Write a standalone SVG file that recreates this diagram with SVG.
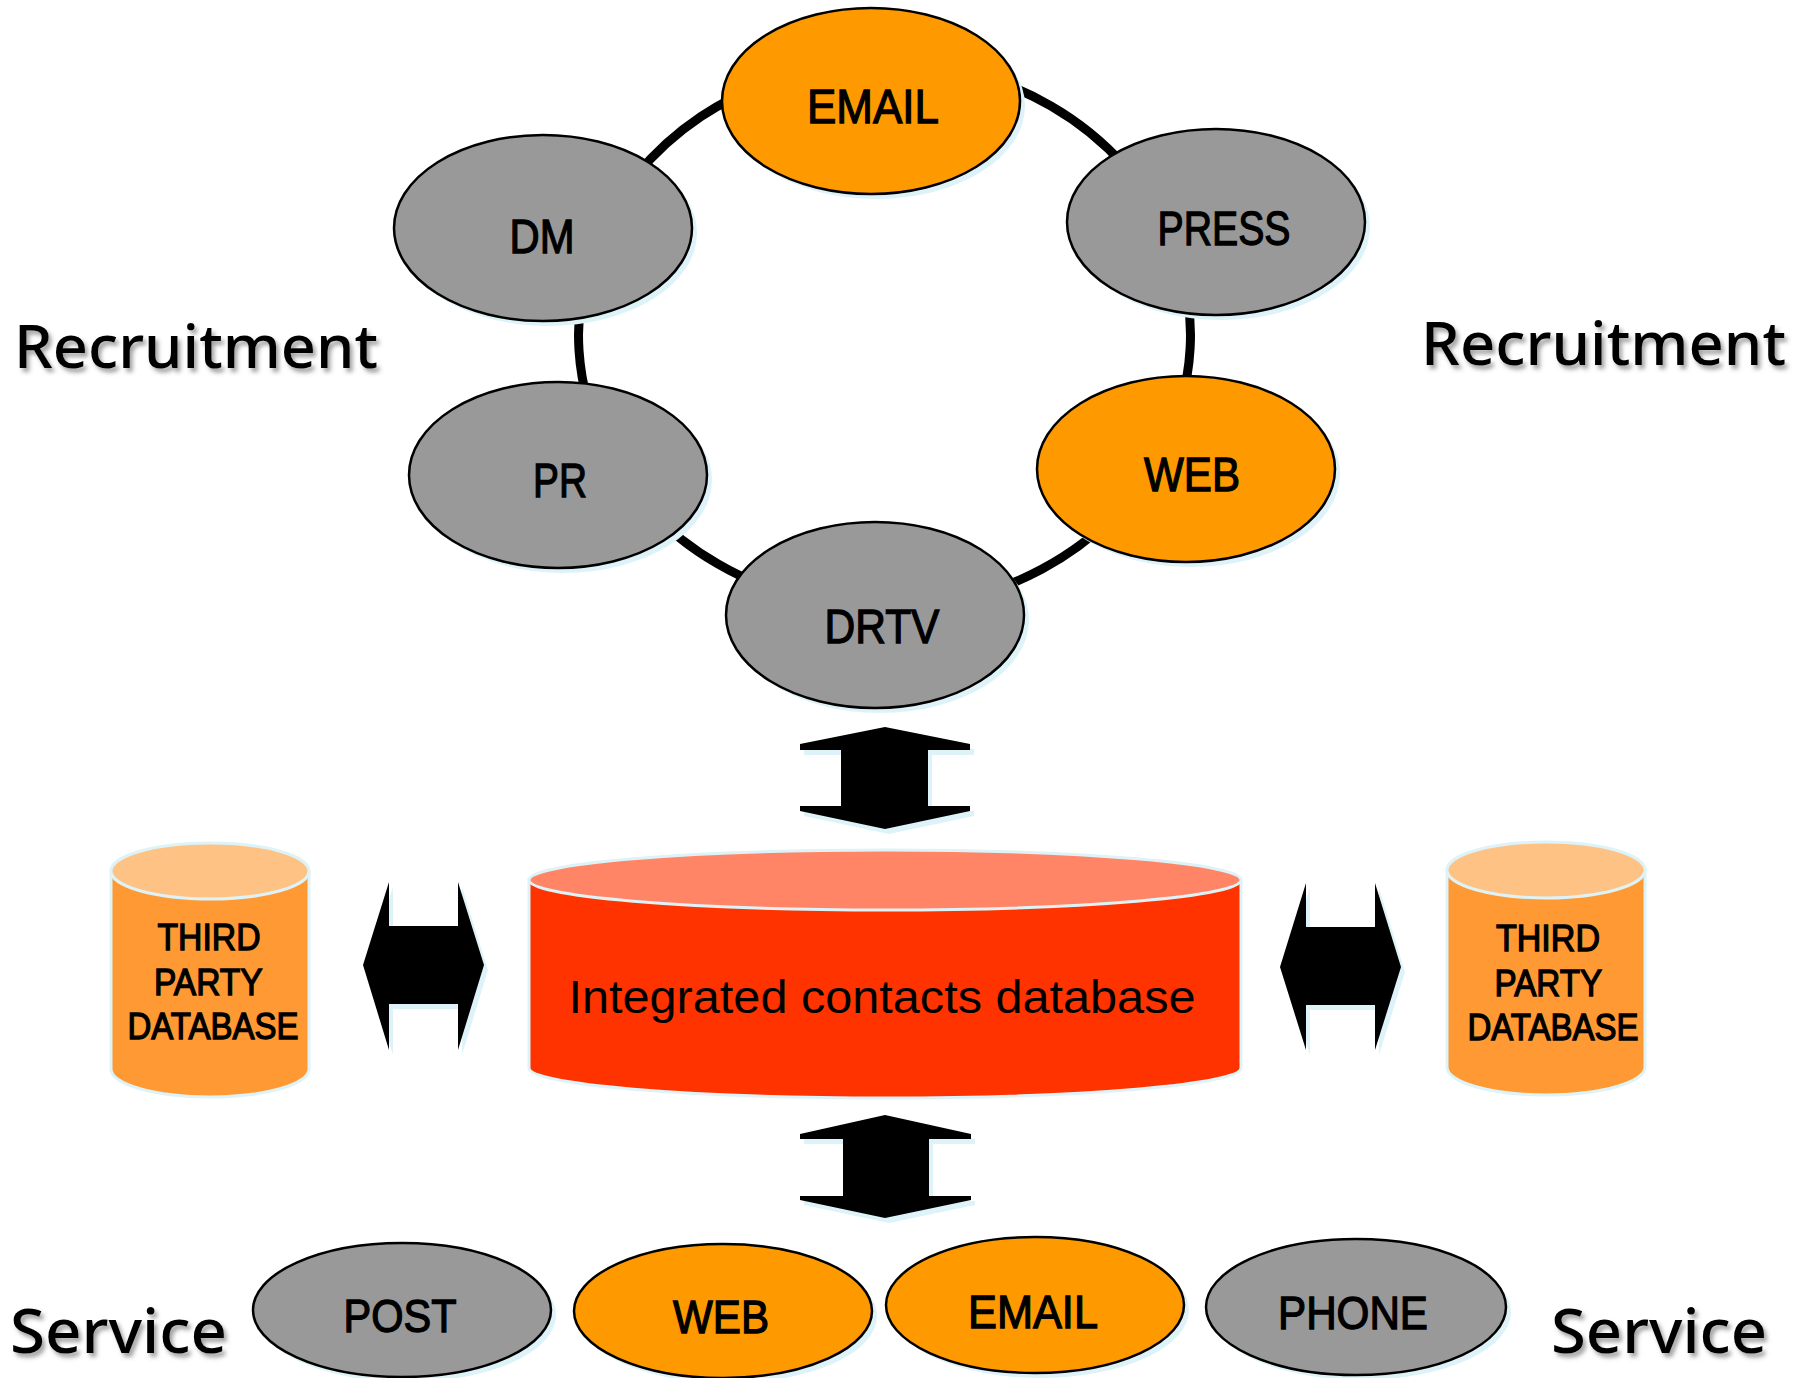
<svg xmlns="http://www.w3.org/2000/svg" width="1806" height="1378" viewBox="0 0 1806 1378">
  <defs>
    <filter id="tshadow" x="-10%" y="-30%" width="130%" height="170%">
      <feDropShadow dx="3" dy="4" stdDeviation="2" flood-color="#555555" flood-opacity="0.55"/>
    </filter>
  </defs>
  <style>
    .lbl { font-family: "Liberation Sans Narrow", "Liberation Sans", Arial, sans-serif; fill: #000; stroke: #000; stroke-width: 1.3; text-anchor: middle; }
    .side { font-family: "Noto Sans", "Open Sans", "DejaVu Sans", sans-serif; font-weight: 500; fill: #000; filter: url(#tshadow); }
    .gray { fill: #999999; stroke: #000; stroke-width: 2.5; }
    .orange { fill: #FF9900; stroke: #000; stroke-width: 2.5; }
    .shadow { fill: #DDF3F9; }
    .ring { fill: none; stroke: #000; stroke-width: 9; }
    .arrow { fill: #000; }
    .ashadow { fill: #DDF3F9; }
    .cylout { stroke: #DDF3F8; stroke-width: 3; }
  </style>
  <rect width="1806" height="1378" fill="#FFFFFF"/>

  <!-- side labels -->
  <text class="side" x="14" y="368" font-size="59" textLength="364" lengthAdjust="spacingAndGlyphs">Recruitment</text>
  <text class="side" x="1421" y="365" font-size="59" textLength="365" lengthAdjust="spacingAndGlyphs">Recruitment</text>
  <text class="side" x="10" y="1353" font-size="61" textLength="217" lengthAdjust="spacingAndGlyphs">Service</text>
  <text class="side" x="1551" y="1353" font-size="61" textLength="216" lengthAdjust="spacingAndGlyphs">Service</text>

  <!-- connectors -->
  <g id="connectors">
    <path class="ring" d="M 868.5 62.4 A 306 273 0 0 1 1170.2 237.2"/>
    <path class="ring" d="M 1170.2 237.2 A 306 273 0 0 1 1158.3 456.8"/>
    <path class="ring" d="M 1158.3 456.8 A 306 273 0 0 1 875.4 607.9"/>
    <path class="ring" d="M 875.4 607.9 A 306 273 0 0 1 608.8 453.4"/>
    <path class="ring" d="M 608.8 453.4 A 306 273 0 0 1 595.7 244.8"/>
    <path class="ring" d="M 595.7 244.8 A 306 273 0 0 1 868.5 62.4"/>

    <!-- vertical double arrow (top) -->
    <g id="arrow-top">
      <path class="ashadow" transform="translate(4,5)" d="M885 727 L970 744 L970 750 L928 750 L928 806 L970 806 L970 811 L885 829 L800 811 L800 806 L841 806 L841 750 L800 750 L800 744 Z"/>
      <path class="arrow" d="M885 727 L970 744 L970 750 L928 750 L928 806 L970 806 L970 811 L885 829 L800 811 L800 806 L841 806 L841 750 L800 750 L800 744 Z"/>
    </g>
    <!-- vertical double arrow (bottom) -->
    <g id="arrow-bottom">
      <path class="ashadow" transform="translate(4,5)" d="M885 1115 L971 1134 L971 1139 L929 1139 L929 1196 L971 1196 L971 1200 L885 1218 L800 1200 L800 1196 L843 1196 L843 1139 L800 1139 L800 1134 Z"/>
      <path class="arrow" d="M885 1115 L971 1134 L971 1139 L929 1139 L929 1196 L971 1196 L971 1200 L885 1218 L800 1200 L800 1196 L843 1196 L843 1139 L800 1139 L800 1134 Z"/>
    </g>
    <!-- horizontal double arrow (left) -->
    <g id="arrow-left">
      <path class="ashadow" transform="translate(4,5)" d="M363 965 L389 882 L389 926 L458 926 L458 882 L484 965 L458 1050 L458 1004 L389 1004 L389 1050 Z"/>
      <path class="arrow" d="M363 965 L389 882 L389 926 L458 926 L458 882 L484 965 L458 1050 L458 1004 L389 1004 L389 1050 Z"/>
    </g>
    <!-- horizontal double arrow (right) -->
    <g id="arrow-right">
      <path class="ashadow" transform="translate(4,5)" d="M1280 967 L1306 883 L1306 927 L1375 927 L1375 883 L1401 967 L1375 1050 L1375 1005 L1306 1005 L1306 1050 Z"/>
      <path class="arrow" d="M1280 967 L1306 883 L1306 927 L1375 927 L1375 883 L1401 967 L1375 1050 L1375 1005 L1306 1005 L1306 1050 Z"/>
    </g>
  </g>

  <!-- recruitment ring nodes -->
  <g id="node-email-top">
    <ellipse class="shadow" cx="876" cy="106" rx="149" ry="93"/>
    <ellipse class="orange" cx="871" cy="101" rx="149" ry="93"/>
    <text class="lbl" x="873" y="123" font-size="49" textLength="132" lengthAdjust="spacingAndGlyphs">EMAIL</text>
  </g>
  <g id="node-dm">
    <ellipse class="shadow" cx="548" cy="233" rx="149" ry="93"/>
    <ellipse class="gray" cx="543" cy="228" rx="149" ry="93"/>
    <text class="lbl" x="542" y="253" font-size="49" textLength="65" lengthAdjust="spacingAndGlyphs">DM</text>
  </g>
  <g id="node-press">
    <ellipse class="shadow" cx="1221" cy="227" rx="149" ry="93"/>
    <ellipse class="gray" cx="1216" cy="222" rx="149" ry="93"/>
    <text class="lbl" x="1224" y="245" font-size="49" textLength="133" lengthAdjust="spacingAndGlyphs">PRESS</text>
  </g>
  <g id="node-pr">
    <ellipse class="shadow" cx="563" cy="480" rx="149" ry="93"/>
    <ellipse class="gray" cx="558" cy="475" rx="149" ry="93"/>
    <text class="lbl" x="560" y="497" font-size="49" textLength="54" lengthAdjust="spacingAndGlyphs">PR</text>
  </g>
  <g id="node-web-top">
    <ellipse class="shadow" cx="1191" cy="474" rx="149" ry="93"/>
    <ellipse class="orange" cx="1186" cy="469" rx="149" ry="93"/>
    <text class="lbl" x="1192" y="491" font-size="49" textLength="96" lengthAdjust="spacingAndGlyphs">WEB</text>
  </g>
  <g id="node-drtv">
    <ellipse class="shadow" cx="880" cy="620" rx="149" ry="93"/>
    <ellipse class="gray" cx="875" cy="615" rx="149" ry="93"/>
    <text class="lbl" x="882" y="643" font-size="49" textLength="115" lengthAdjust="spacingAndGlyphs">DRTV</text>
  </g>

  <!-- databases -->
  <g id="node-main-db">
    <path class="cylout" fill="#FF3300" d="M529 880 L529 1068 A356 30 0 0 0 1241 1068 L1241 880 Z"/>
    <ellipse class="cylout" fill="#FF8566" cx="885" cy="880" rx="356" ry="30"/>
    <text x="882" y="1013" font-family="Liberation Sans Narrow, Liberation Sans, Arial, sans-serif" font-size="46" text-anchor="middle" fill="#000" textLength="627" lengthAdjust="spacingAndGlyphs">Integrated contacts database</text>
  </g>
  <g id="node-third-left">
    <path class="cylout" fill="#FF9933" d="M111 871 L111 1069 A99 28 0 0 0 309 1069 L309 871 Z"/>
    <ellipse class="cylout" fill="#FFC285" cx="210" cy="871" rx="99" ry="28"/>
    <text class="lbl" font-size="36" stroke-width="0.9">
      <tspan x="214" y="950" textLength="103" lengthAdjust="spacingAndGlyphs">THIRD</tspan>
      <tspan x="213" y="995" textLength="108" lengthAdjust="spacingAndGlyphs">PARTY</tspan>
      <tspan x="213" y="1039" textLength="171" lengthAdjust="spacingAndGlyphs">DATABASE</tspan>
    </text>
  </g>
  <g id="node-third-right">
    <path class="cylout" fill="#FF9933" d="M1447 870 L1447 1067 A99 28 0 0 0 1645 1067 L1645 870 Z"/>
    <ellipse class="cylout" fill="#FFC285" cx="1546" cy="870" rx="99" ry="28"/>
    <text class="lbl" font-size="36" stroke-width="0.9">
      <tspan x="1553" y="951" textLength="104" lengthAdjust="spacingAndGlyphs">THIRD</tspan>
      <tspan x="1553" y="996" textLength="107" lengthAdjust="spacingAndGlyphs">PARTY</tspan>
      <tspan x="1553" y="1040" textLength="171" lengthAdjust="spacingAndGlyphs">DATABASE</tspan>
    </text>
  </g>

  <!-- service nodes -->
  <g id="node-post">
    <ellipse class="shadow" cx="407" cy="1315" rx="149" ry="67"/>
    <ellipse class="gray" cx="402" cy="1310" rx="149" ry="67"/>
    <text class="lbl" x="400" y="1332" font-size="47" textLength="113" lengthAdjust="spacingAndGlyphs">POST</text>
  </g>
  <g id="node-web-bottom">
    <ellipse class="shadow" cx="728" cy="1316" rx="149" ry="67"/>
    <ellipse class="orange" cx="723" cy="1311" rx="149" ry="67"/>
    <text class="lbl" x="721" y="1333" font-size="47" textLength="96" lengthAdjust="spacingAndGlyphs">WEB</text>
  </g>
  <g id="node-email-bottom">
    <ellipse class="shadow" cx="1040" cy="1310" rx="149" ry="68"/>
    <ellipse class="orange" cx="1035" cy="1305" rx="149" ry="68"/>
    <text class="lbl" x="1033" y="1328" font-size="47" textLength="130" lengthAdjust="spacingAndGlyphs">EMAIL</text>
  </g>
  <g id="node-phone">
    <ellipse class="shadow" cx="1361" cy="1312" rx="150" ry="68"/>
    <ellipse class="gray" cx="1356" cy="1307" rx="150" ry="68"/>
    <text class="lbl" x="1353" y="1329" font-size="47" textLength="150" lengthAdjust="spacingAndGlyphs">PHONE</text>
  </g>
</svg>
